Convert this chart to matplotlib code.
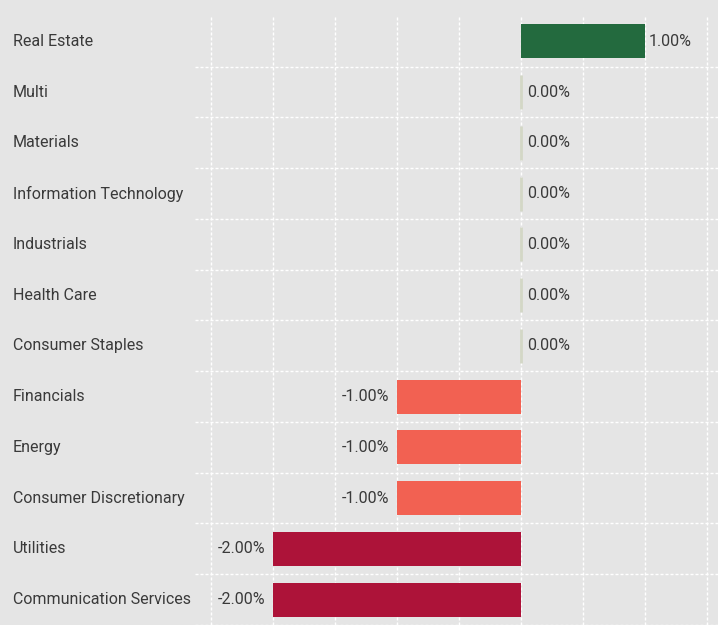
import matplotlib.pyplot as plt
import matplotlib.transforms as mtransforms
import numpy as np

plt.rcParams['font.family'] = ['Roboto', 'DejaVu Sans']

# sector returns (%), top to bottom
sectors = ['Real Estate', 'Multi', 'Materials', 'Information Technology', 'Industrials',
           'Health Care', 'Consumer Staples', 'Financials', 'Energy',
           'Consumer Discretionary', 'Utilities', 'Communication Services']
values = [1.0, 0.0, 0.0, 0.0, 0.0, 0.0, 0.0, -1.0, -1.0, -1.0, -2.0, -2.0]
value_labels = ['1.00%', '0.00%', '0.00%', '0.00%', '0.00%', '0.00%', '0.00%',
                '-1.00%', '-1.00%', '-1.00%', '-2.00%', '-2.00%']


def bar_color(v):
    if v >= 1:
        return '#236a3e'
    if v == 0:
        return '#d3d7c6'
    if v > -1.5:
        return '#f26152'
    return '#ad1339'


W, H = 718, 625
top_px = 15.9
row_px = 50.8
fig = plt.figure(figsize=(W / 100, H / 100), dpi=100)
fig.patch.set_facecolor('#e5e5e5')
ax = fig.add_axes([195 / W, 0, (718 - 195) / W, (H - top_px) / H])
ax.set_facecolor('#e5e5e5')

n = len(sectors)
y = np.arange(n)
colors = [bar_color(v) for v in values]
ax.barh(y, values, height=0.67, color=colors, edgecolor=colors,
        linewidth=[2 if v == 0 else 0 for v in values], zorder=3)

ax.set_xlim((195 - 521) / 124, (718 - 521) / 124)
ax.set_ylim((H - top_px) / row_px - 0.5, -0.5)
ax.set_xticks(np.arange(-2.5, 1.6, 0.5))
ax.set_yticks(np.arange(n) + 0.5)
ax.tick_params(left=False, bottom=False, labelleft=False, labelbottom=False)
ax.grid(True, color='white', linestyle=(0, (2.2, 1.4)), linewidth=1, zorder=0)
for s in ax.spines.values():
    s.set_visible(False)

tr = mtransforms.blended_transform_factory(fig.transFigure, ax.transData)
fs = 11.5
for i, (name, v, lab) in enumerate(zip(sectors, values, value_labels)):
    ax.text(13 / W, i, name, transform=tr, ha='left', va='center',
            fontsize=fs, color='#3a3a3a')
    if v > 0:
        ax.text(v + 0.03, i, lab, ha='left', va='center', fontsize=fs, color='#3a3a3a')
    elif v == 0:
        ax.text(0.05, i, lab, ha='left', va='center', fontsize=fs, color='#3a3a3a')
    else:
        ax.text(v - 0.065, i, lab, ha='right', va='center', fontsize=fs, color='#3a3a3a')

fig.savefig('out.png', dpi=100, facecolor=fig.get_facecolor())
